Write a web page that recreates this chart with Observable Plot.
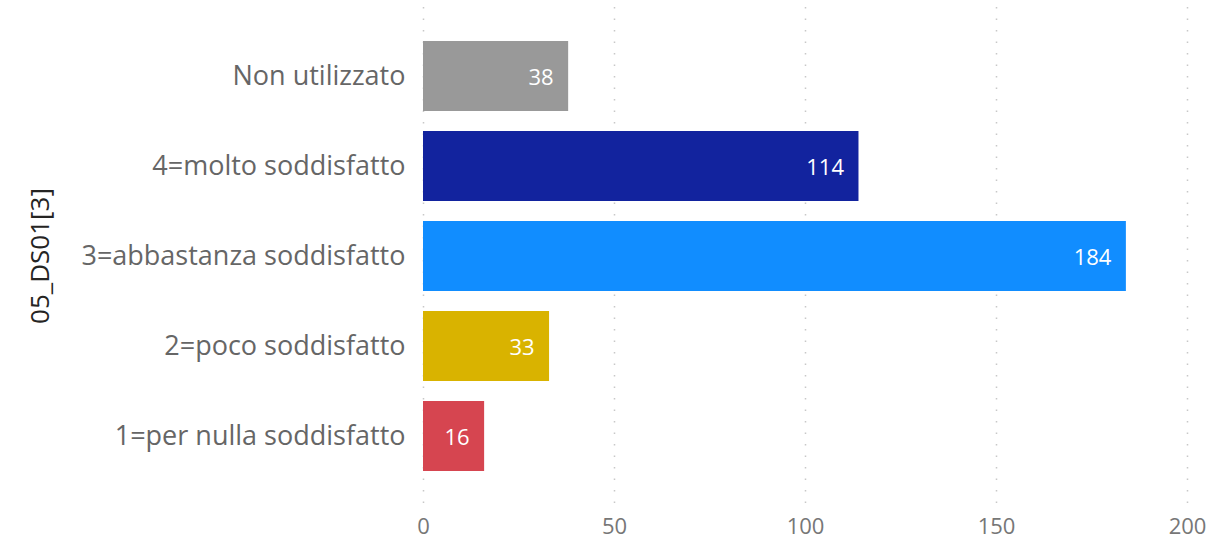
<!DOCTYPE html>
<html>
<head>
<meta charset="utf-8">
<script src="https://cdn.jsdelivr.net/npm/d3@7"></script>
<script src="https://cdn.jsdelivr.net/npm/@observablehq/plot@0.6"></script>
<style>
  html, body { margin: 0; padding: 0; background: #fff; }
  #chart { width: 1211px; height: 542px; }
</style>
</head>
<body>
<div id="chart"></div>
<script>
const categories = ["Non utilizzato", "4=molto soddisfatto", "3=abbastanza soddisfatto", "2=poco soddisfatto", "1=per nulla soddisfatto"];
const counts = [38, 114, 184, 33, 16];
const colors = ["#999999", "#12239E", "#118DFF", "#D9B300", "#D64550"];
const xTicks = [0, 50, 100, 150, 200];
const axisTitle = "05_DS01[3]";

const data = categories.map((c, i) => ({category: c, count: counts[i], color: colors[i]}));
const font = "'Open Sans', 'Noto Sans', sans-serif";

const chart = Plot.plot({
  width: 1211,
  height: 542,
  marginLeft: 423,
  marginRight: 24,
  marginTop: 19,
  marginBottom: 50,
  style: {fontFamily: font, background: "#fff"},
  x: {domain: [0, 200]},
  y: {domain: categories, padding: 0.225},
  marks: [
    Plot.ruleX(xTicks, {stroke: "#c8c8c8", strokeWidth: 1.5, strokeDasharray: "1.5,10", insetTop: -12, insetBottom: -15}),
    Plot.barX(data, {x: "count", y: "category", fill: "color"}),
    Plot.text(data, {x: "count", y: "category", text: d => String(d.count), textAnchor: "end", dx: -15, dy: 1, fill: "#fff", fontSize: 22}),
    Plot.axisX({ticks: xTicks, tickSize: 0, tickPadding: 26, fontSize: 22, color: "#777", label: null}),
    Plot.axisY({tickSize: 0, tickPadding: 18, fontSize: 27, color: "#666", label: null}),
    Plot.axisY({tickSize: 0, ticks: [], color: "#252423", fontSize: 26, label: axisTitle, labelAnchor: "center", labelOffset: 393})
  ]
});
document.getElementById("chart").appendChild(chart);
</script>
</body>
</html>
